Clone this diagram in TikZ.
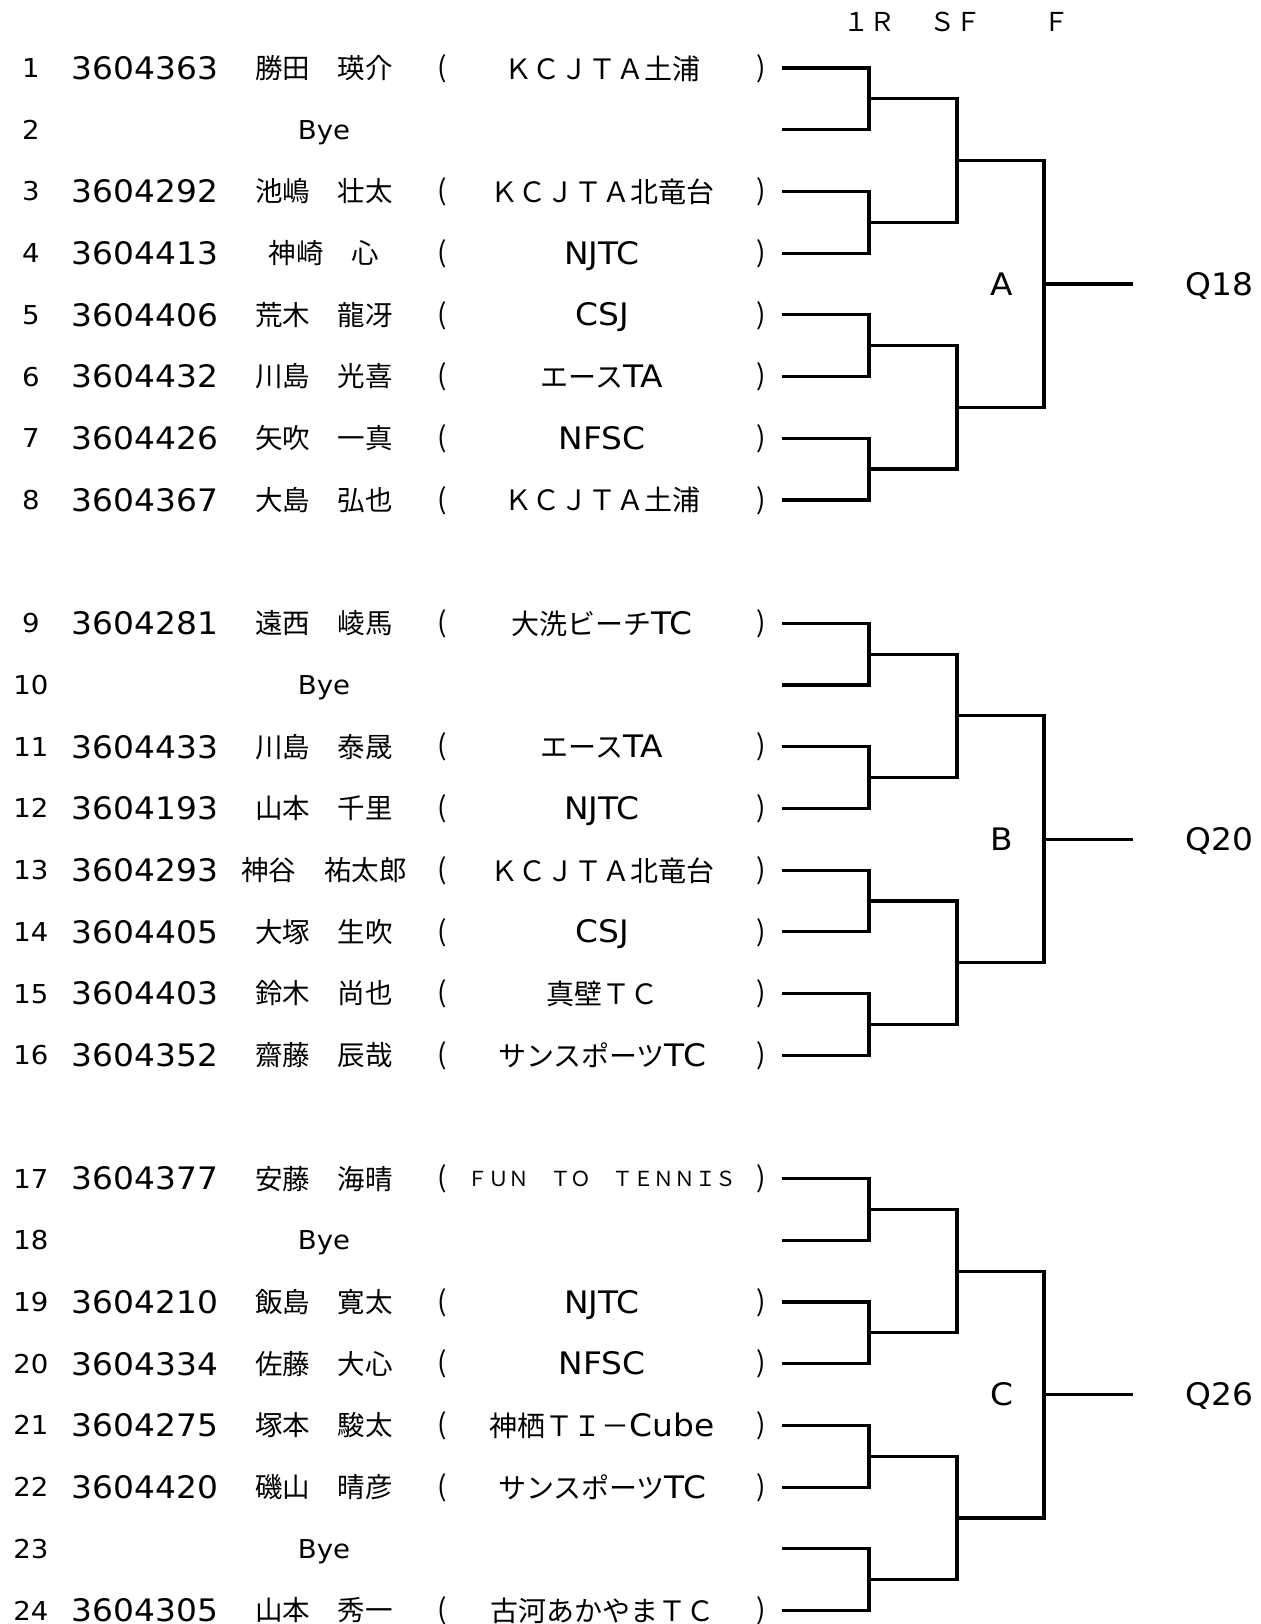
\documentclass[tikz,border=0pt]{standalone}
\usepackage{fontspec}
\newfontfamily\jpf{Noto Sans CJK JP}
\newfontfamily\latf[FakeStretch=1.06]{DejaVu Sans}
\newcommand{\lat}[1]{{\latf\fontsize{15.5pt}{17pt}\selectfont #1}}
\usetikzlibrary{positioning,calc}

\begin{document}
\begin{tikzpicture}[x=0.5pt, y=-0.5pt]
  \tikzstyle{rownum} = [inner sep=0pt, font=\latf\fontsize{13pt}{15pt}\selectfont, text height=9.5pt, text depth=0pt]
  \tikzstyle{pid} = [inner sep=0pt, font=\latf\fontsize{15.5pt}{17pt}\selectfont, text height=11.3pt, text depth=0pt]
  \tikzstyle{pname} = [inner sep=0pt, font=\jpf\fontsize{13.75pt}{15pt}\selectfont, text height=10.4pt, text depth=0pt]
  \tikzstyle{bye} = [rownum]
  \tikzstyle{paren} = [inner sep=0pt, font=\jpf\fontsize{14pt}{16pt}\selectfont, text height=9.2pt, text depth=0pt]
  \tikzstyle{club} = [inner sep=0pt, font=\jpf\fontsize{14pt}{16pt}\selectfont, text height=11pt, text depth=0pt]
  \tikzstyle{head} = [inner sep=0pt, font=\jpf\fontsize{13pt}{15pt}\selectfont, text height=9.5pt, text depth=0pt]
  \tikzstyle{grp} = [pid]
  \tikzstyle{qual} = [pid, anchor=west]
  \tikzstyle{bracket} = [draw, line width=1.6pt]

  \useasboundingbox (0,0) rectangle (1261,1624);

  % round headers
  \node[head] (h1) at (869,22) {１Ｒ};
  \node[head] (h2) at (955,22) {ＳＦ};
  \node[head] (h3) at (1056,22) {Ｆ};

  % draw numbers
  \foreach \r/\i in {1/0,2/1,3/2,4/3,5/4,6/5,7/6,8/7,9/9,10/10,11/11,12/12,13/13,14/14,15/15,16/16,17/18,18/19,19/20,20/21,21/22,22/23,23/24,24/25}
    \node[rownum] (n\r) at (31,{68+\i*61.7}) {\r};

  % byes
  \foreach \r/\i in {2/1,10/10,18/19,23/24}
    \node[bye] (bye\r) at (324,{68+\i*61.7}) {Bye};

  % players
  \foreach \r/\i/\id/\fam/\giv/\club in {
    1/0/3604363/勝田/瑛介/ＫＣＪＴＡ土浦,
    3/2/3604292/池嶋/壮太/ＫＣＪＴＡ北竜台,
    4/3/3604413/神崎/心/\lat{NJTC},
    5/4/3604406/荒木/龍冴/\lat{CSJ},
    6/5/3604432/川島/光喜/エース\lat{TA},
    7/6/3604426/矢吹/一真/\lat{NFSC},
    8/7/3604367/大島/弘也/ＫＣＪＴＡ土浦,
    9/9/3604281/遠西/崚馬/大洗ビーチ\lat{TC},
    11/11/3604433/川島/泰晟/エース\lat{TA},
    12/12/3604193/山本/千里/\lat{NJTC},
    13/13/3604293/神谷/祐太郎/ＫＣＪＴＡ北竜台,
    14/14/3604405/大塚/生吹/\lat{CSJ},
    15/15/3604403/鈴木/尚也/真壁ＴＣ,
    16/16/3604352/齋藤/辰哉/サンスポーツ\lat{TC},
    17/18/3604377/安藤/海晴/{\raisebox{1.7pt}{\fontsize{10.35pt}{12pt}\selectfont ＦＵＮ　ＴＯ　ＴＥＮＮＩＳ}},
    19/20/3604210/飯島/寛太/\lat{NJTC},
    20/21/3604334/佐藤/大心/\lat{NFSC},
    21/22/3604275/塚本/駿太/神栖ＴＩ－\lat{Cube},
    22/23/3604420/磯山/晴彦/サンスポーツ\lat{TC},
    24/25/3604305/山本/秀一/古河あかやまＴＣ}{
    \node[pid] (id\r) at (145,{68+\i*61.7}) {\id};
    \node[pname] (nm\r) at (324,{68+\i*61.7}) {\fam\hspace{14pt}\giv};
    \node[paren] (lp\r) at (442,{68+\i*61.7}) {(};
    \node[club] (cl\r) at (602,{68+\i*61.7}) {\club};
    \node[paren] (rp\r) at (761,{68+\i*61.7}) {)};
  }

  % brackets
  \foreach \g/\b/\q in {A/0/Q18,B/9/Q20,C/18/Q26}{
    \foreach \j in {0,...,7}
      \coordinate (\g e\j) at (782,{68+(\b+\j)*61.7});
    \foreach \k in {0,...,3}
      \coordinate (\g r\k) at (869,{68+(\b+2*\k+0.5)*61.7});
    \coordinate (\g s0) at (957,{68+(\b+1.5)*61.7});
    \coordinate (\g s1) at (957,{68+(\b+5.5)*61.7});
    \coordinate (\g f) at (1044,{68+(\b+3.5)*61.7});
    \coordinate (\g o) at (1133,{68+(\b+3.5)*61.7});
    \node[grp] (\g) at (1002,{68+(\b+3.5)*61.7}) {\g};
    \node[qual] (q\g) at (1185,{68+(\b+3.5)*61.7}) {\q};

    \foreach \k/\u/\v in {0/0/1,1/2/3,2/4/5,3/6/7}
      \path[bracket] (\g e\u) -| (\g r\k) |- (\g e\v);
    \path[bracket] (\g r0) -| (\g s0) |- (\g r1);
    \path[bracket] (\g r2) -| (\g s1) |- (\g r3);
    \path[bracket] (\g s0) -| (\g f) |- (\g s1);
    \path[bracket] (\g f) -- (\g o);
  }

\end{tikzpicture}
\end{document}
